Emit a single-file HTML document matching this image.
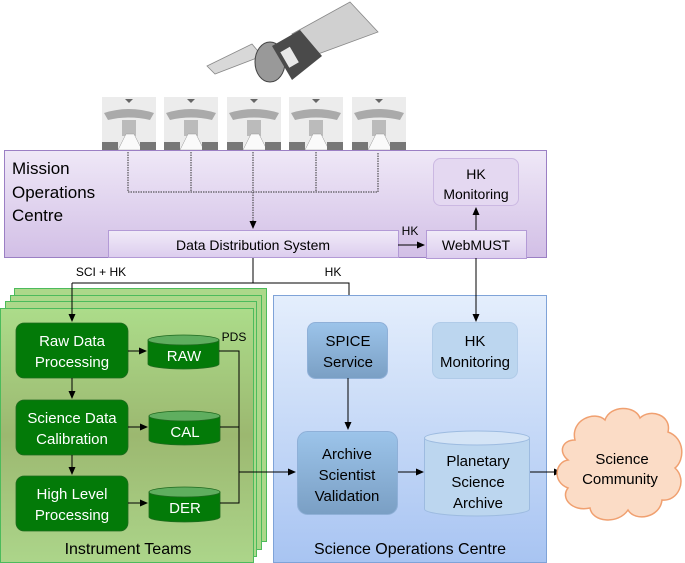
<!DOCTYPE html>
<html><head><meta charset="utf-8"><style>
body{margin:0;background:#fff}
svg{display:block}
text{font-family:"Liberation Sans",sans-serif}
</style></head><body>
<svg width="685" height="563" viewBox="0 0 685 563" xmlns="http://www.w3.org/2000/svg">
<defs>
<linearGradient id="moc" x1="0" y1="0" x2="0" y2="1"><stop offset="0" stop-color="#efe8f7"/><stop offset="1" stop-color="#d2bfe6"/></linearGradient>
<linearGradient id="dds" x1="0" y1="0" x2="0" y2="1"><stop offset="0" stop-color="#f1ebf8"/><stop offset="1" stop-color="#dccdee"/></linearGradient>
<linearGradient id="grn" x1="0" y1="0" x2="0" y2="1"><stop offset="0" stop-color="#acdc8a"/><stop offset="0.5" stop-color="#9cb870"/><stop offset="1" stop-color="#acd58a"/></linearGradient>
<linearGradient id="soc" x1="0" y1="0" x2="0" y2="1"><stop offset="0" stop-color="#e4eefc"/><stop offset="1" stop-color="#a8c4f2"/></linearGradient>
<linearGradient id="blu" x1="0" y1="0" x2="0" y2="1"><stop offset="0" stop-color="#9cc4ea"/><stop offset="1" stop-color="#7a9fc4"/></linearGradient>
<marker id="a" markerWidth="8" markerHeight="8" refX="7" refY="4" orient="auto" markerUnits="userSpaceOnUse"><path d="M0,0.5 L8,4 L0,7.5z" fill="#000"/></marker>
</defs>
<!-- satellite -->
<g>
<polygon points="207,66 252,44 262,56 215,74" fill="#d8d8d8" stroke="#888" stroke-width="0.8"/>
<polygon points="292,34 350,2 378,32 318,54" fill="#d0d0d0" stroke="#888" stroke-width="0.8"/>
<ellipse cx="270" cy="62" rx="15" ry="20" fill="#999" stroke="#444"/>
<polygon points="272,46 300,30 322,56 292,80" fill="#4a4a4a"/>
<rect x="284" y="48" width="11" height="18" fill="#e8e8e8" transform="rotate(-30 290 57)"/>
</g>
<!-- antennas -->
<g>
<g id="ant"><rect x="102" y="97" width="54" height="53" fill="#ececec"/><path d="M104,113 Q129,105 154,113 L150,120 Q129,115 108,120z" fill="#aaa"/><polygon points="125,99 129,103 133,99" fill="#666"/><rect x="122" y="120" width="14" height="16" fill="#bbb"/><polygon points="118,150 126,134 134,134 142,150" fill="#fafafa" stroke="#999" stroke-width="0.5"/><rect x="102" y="142" width="16" height="8" fill="#777"/><rect x="140" y="142" width="16" height="8" fill="#777"/></g>
<use href="#ant" x="62"/><use href="#ant" x="125"/><use href="#ant" x="187"/><use href="#ant" x="250"/>
</g>
<!-- MOC -->
<rect x="4.5" y="150.5" width="542" height="107" fill="url(#moc)" stroke="#9b7fc4"/>
<text x="12" y="174" font-size="17">Mission</text>
<text x="12" y="198" font-size="17">Operations</text>
<text x="12" y="221" font-size="17">Centre</text>
<g stroke="#333" stroke-width="1" stroke-dasharray="1.5,1" fill="none">
<path d="M128,152 V192 H378 V152 M191,152 V192 M316,152 V192"/>
<path d="M253,152 V228" marker-end="url(#a)"/>
</g>
<rect x="108.5" y="230.5" width="290" height="27" fill="url(#dds)" stroke="#b39ad6"/>
<text x="253" y="250" font-size="14" text-anchor="middle">Data Distribution System</text>
<rect x="426.5" y="230.5" width="100" height="28" fill="url(#dds)" stroke="#b39ad6"/>
<text x="476" y="250" font-size="14" text-anchor="middle">WebMUST</text>
<rect x="433.5" y="158.5" width="85" height="47" rx="7" fill="#e4d8f1" stroke="#cbb8e2"/>
<text x="476" y="179" font-size="14" text-anchor="middle">HK</text>
<text x="476" y="199" font-size="14" text-anchor="middle">Monitoring</text>
<path d="M398,245 H424" stroke="#000" marker-end="url(#a)"/>
<text x="410" y="235" font-size="12" text-anchor="middle">HK</text>
<path d="M476,230 V208" stroke="#000" marker-end="url(#a)"/>
<!-- connectors to below -->
<path d="M253,258 V283" stroke="#000" fill="none"/>
<path d="M72,283 H349 V321" stroke="#000" fill="none" marker-end="url(#a)"/>
<text x="101" y="276" font-size="12" text-anchor="middle">SCI + HK</text>
<text x="333" y="276" font-size="12" text-anchor="middle">HK</text>
<!-- green stack -->
<rect x="14.5" y="288.5" width="252" height="253" fill="#acd88a" stroke="#4cbb5c"/>
<rect x="10.5" y="295.5" width="251" height="254" fill="#acd88a" stroke="#4cbb5c"/>
<rect x="5.5" y="301.5" width="251" height="255" fill="#acd88a" stroke="#4cbb5c"/>
<rect x="0.5" y="308.5" width="253" height="254" fill="url(#grn)" stroke="#4cbb5c"/>
<path d="M72,283 V321" stroke="#000" marker-end="url(#a)"/>
<g fill="#037a08" stroke="#1f6a1f" stroke-width="0.8">
<rect x="16" y="323" width="112" height="55" rx="8"/>
<rect x="16" y="400" width="112" height="55" rx="8"/>
<rect x="16" y="476" width="112" height="55" rx="8"/>
</g>
<g fill="#fff" font-size="15" text-anchor="middle">
<text x="72" y="346">Raw Data</text><text x="72" y="367">Processing</text>
<text x="72" y="423">Science Data</text><text x="72" y="444">Calibration</text>
<text x="72" y="499">High Level</text><text x="72" y="520">Processing</text>
</g>
<g stroke="#000" marker-end="url(#a)">
<path d="M72,378 V398"/><path d="M72,455 V474"/>
<path d="M128,351 H146"/><path d="M128,427 H147"/><path d="M128,503 H147"/>
</g>
<g stroke="#1f6a1f" stroke-width="0.8">
<path d="M148,340 V364 A35.5,5 0 0 0 219,364 V340z" fill="#037a08"/><ellipse cx="183.5" cy="340" rx="35.5" ry="5" fill="#5fae5f"/>
<path d="M149,416 V440 A35.5,5 0 0 0 220,440 V416z" fill="#037a08"/><ellipse cx="184.5" cy="416" rx="35.5" ry="5" fill="#5fae5f"/>
<path d="M149,492 V517 A35.5,5 0 0 0 220,517 V492z" fill="#037a08"/><ellipse cx="184.5" cy="492" rx="35.5" ry="5" fill="#5fae5f"/>
</g>
<g fill="#fff" font-size="15" text-anchor="middle">
<text x="184" y="361">RAW</text><text x="185" y="437">CAL</text><text x="185" y="513">DER</text>
</g>
<text x="234" y="341" font-size="12" text-anchor="middle">PDS</text>
<text x="128" y="554" font-size="16" text-anchor="middle">Instrument Teams</text>
<!-- SOC -->
<rect x="273.5" y="295.5" width="273" height="267" fill="url(#soc)" stroke="#7fa3d8"/>
<path d="M219,351 H239 V503 H220 M220,427 H239" stroke="#000" fill="none"/>
<path d="M239,472 H295" stroke="#000" marker-end="url(#a)"/>
<path d="M476,258 V321" stroke="#000" marker-end="url(#a)"/>
<rect x="307.5" y="322.5" width="80" height="56" rx="8" fill="url(#blu)" stroke="#8fb0d8"/>
<text x="348" y="346" font-size="15" text-anchor="middle">SPICE</text>
<text x="348" y="367" font-size="15" text-anchor="middle">Service</text>
<rect x="432.5" y="322.5" width="85" height="56" rx="8" fill="#bcd6ef" stroke="#b0cbe8"/>
<text x="475" y="346" font-size="15" text-anchor="middle">HK</text>
<text x="475" y="367" font-size="15" text-anchor="middle">Monitoring</text>
<path d="M348,378 V429" stroke="#000" marker-end="url(#a)"/>
<rect x="297.5" y="431.5" width="100" height="83" rx="10" fill="url(#blu)" stroke="#8fb0d8"/>
<text x="347" y="459" font-size="15" text-anchor="middle">Archive</text>
<text x="347" y="480" font-size="15" text-anchor="middle">Scientist</text>
<text x="347" y="501" font-size="15" text-anchor="middle">Validation</text>
<path d="M398,472 H423" stroke="#000" marker-end="url(#a)"/>
<path d="M424.5,438 V509 A52.5,7 0 0 0 529.5,509 V438z" fill="#bcd6ef" stroke="#9dbbe0"/>
<ellipse cx="477" cy="438" rx="52.5" ry="7" fill="#d4e4f6" stroke="#9dbbe0"/>
<text x="478" y="466" font-size="15" text-anchor="middle">Planetary</text>
<text x="478" y="487" font-size="15" text-anchor="middle">Science</text>
<text x="478" y="508" font-size="15" text-anchor="middle">Archive</text>
<path d="M530,472 H561" stroke="#000" marker-end="url(#a)"/>
<text x="410" y="554" font-size="16" text-anchor="middle">Science Operations Centre</text>
<!-- cloud -->
<g fill="#fbdcc6" stroke="#f0a070" stroke-width="1.5">
<path d="M575,440 C570,420 595,410 605,420 C610,405 635,405 640,418 C650,408 672,415 668,432 C685,438 685,460 675,468 C688,480 678,502 662,500 C660,518 635,522 628,510 C618,525 592,522 590,508 C572,512 560,498 568,488 C552,482 555,462 568,460 C558,452 562,440 575,440 Z"/>
</g>
<text x="622" y="464" font-size="15" text-anchor="middle">Science</text>
<text x="620" y="484" font-size="15" text-anchor="middle">Community</text>
</svg>
</body></html>
